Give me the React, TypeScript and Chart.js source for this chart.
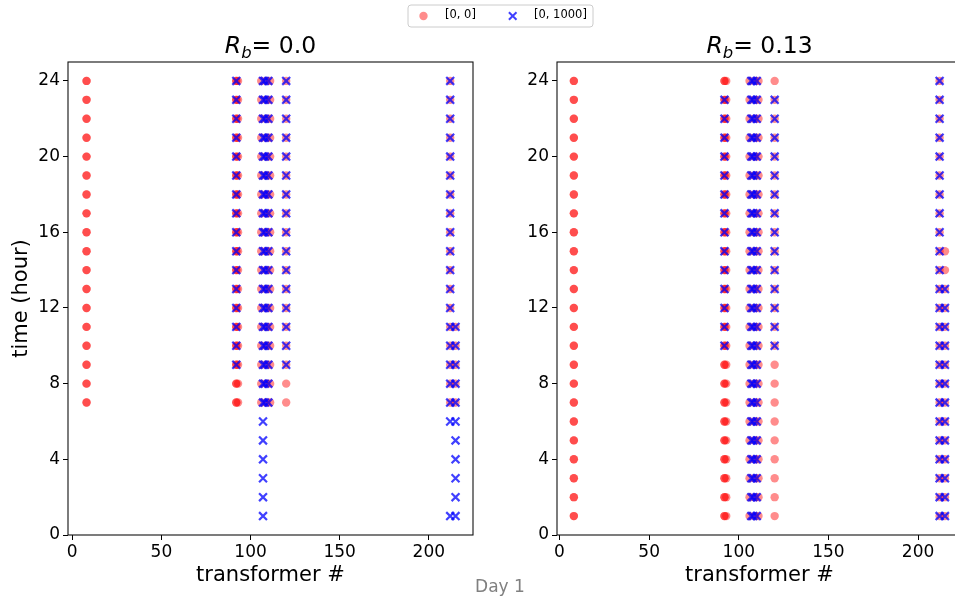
import React, { useEffect, useRef } from "react";
import { Chart, registerables } from "chart.js";

Chart.register(...registerables);

// ---------------- data ----------------
// hour lists (hours at which a transformer appears)
const H_ALL = [1, 2, 3, 4, 5, 6, 7, 8, 9, 10, 11, 12, 13, 14, 15, 16, 17, 18, 19, 20, 21, 22, 23, 24];
const H_7_24 = [7, 8, 9, 10, 11, 12, 13, 14, 15, 16, 17, 18, 19, 20, 21, 22, 23, 24];
const H_9_24 = [9, 10, 11, 12, 13, 14, 15, 16, 17, 18, 19, 20, 21, 22, 23, 24];
const H_10_23 = [10, 11, 12, 13, 14, 15, 16, 17, 18, 19, 20, 21, 22, 23];
const H_7_11 = [7, 8, 9, 10, 11];
const H_1_11 = [1, 2, 3, 4, 5, 6, 7, 8, 9, 10, 11];
const H_1_13 = [1, 2, 3, 4, 5, 6, 7, 8, 9, 10, 11, 12, 13];
const H_1_15 = [1, 2, 3, 4, 5, 6, 7, 8, 9, 10, 11, 12, 13, 14, 15];
const H_1_6_24 = [1, 6, 7, 8, 9, 10, 11, 12, 13, 14, 15, 16, 17, 18, 19, 20, 21, 22, 23, 24];

// [transformer #, hours]  (columns 8 and 92 hold overlapping records)
const LEFT_RED: [number, number[]][] = [
  [8, H_7_24], [8, H_7_24], [92, H_7_24], [92, H_7_24], [93, H_7_24], [106, H_7_24],
  [109, H_7_24], [111, H_7_24], [120, H_7_24], [212, H_7_24], [215, H_7_11],
];
const LEFT_BLUE: [number, number[]][] = [
  [92, H_9_24], [107, H_ALL], [108, H_7_24], [110, H_7_24], [120, H_9_24],
  [212, H_1_6_24], [215, H_1_11],
];
const RIGHT_RED: [number, number[]][] = [
  [8, H_ALL], [8, H_ALL], [92, H_ALL], [92, H_ALL], [93, H_ALL], [106, H_ALL],
  [109, H_ALL], [111, H_ALL], [120, H_ALL], [212, H_ALL], [215, H_1_15],
];
const RIGHT_BLUE: [number, number[]][] = [
  [92, H_10_23], [107, H_ALL], [108, H_ALL], [110, H_ALL], [120, H_10_23],
  [212, H_ALL], [215, H_1_13],
];

const X_TICKS = [0, 50, 100, 150, 200];
const Y_TICKS = [0, 4, 8, 12, 16, 20, 24];
const LEFT_X_RANGE = [-2.4, 224.8];
const RIGHT_X_RANGE = [-1.4, 224.5];
const Y_RANGE = [0, 25];
const RB_VALUES = ["0.0", "0.13"];
const SERIES_LABELS = ["[0, 0]", "[0, 1000]"];
const X_TITLE = "transformer #";
const Y_TITLE = "time (hour)";
const FIG_LABEL = "Day 1";

// ---------------- styles ----------------
const FONT = '"DejaVu Sans", sans-serif';
const RED = "rgba(255,0,0,0.45)";
const BLUE = "rgba(0,0,255,0.75)";
const W = 1000;
const H = 601;
const TOP = 62;
const BOTTOM = 535;

function toPoints(groups: [number, number[]][]) {
  return groups.flatMap(([t, hours]) => hours.map((h) => ({ x: t, y: h })));
}

const framePlugin = {
  id: "frame",
  afterDraw(chart: any) {
    const { ctx, chartArea: a } = chart;
    ctx.save();
    ctx.strokeStyle = "#111";
    ctx.lineWidth = 1.1;
    ctx.strokeRect(a.left, a.top, a.right - a.left, a.bottom - a.top);
    ctx.restore();
  },
};

function titlePlugin(value: string) {
  return {
    id: "rbTitle",
    afterDraw(chart: any) {
      const { ctx, chartArea: a } = chart;
      const size = 23.5;
      const cx = (a.left + a.right) / 2;
      const base = 53;
      ctx.save();
      ctx.fillStyle = "#000";
      ctx.textBaseline = "alphabetic";
      ctx.textAlign = "left";
      const fR = `italic ${size}px ${FONT}`;
      const fB = `italic ${size * 0.7}px ${FONT}`;
      const fN = `${size}px ${FONT}`;
      const rest = "= " + value;
      ctx.font = fR;
      const wR = ctx.measureText("R").width;
      ctx.font = fB;
      const wB = ctx.measureText("b").width;
      ctx.font = fN;
      const wN = ctx.measureText(rest).width;
      let x = cx - (wR + wB + wN) / 2;
      ctx.font = fR;
      ctx.fillText("R", x, base);
      x += wR;
      ctx.font = fB;
      ctx.fillText("b", x, base + size * 0.2);
      x += wB;
      ctx.font = fN;
      ctx.fillText(rest, x, base);
      ctx.restore();
    },
  };
}

const overlayPlugin = {
  id: "overlay",
  afterDraw(chart: any) {
    const { ctx } = chart;
    ctx.save();
    // legend box
    const bx = 408, by = 5, bw = 185, bh = 22, r = 3;
    ctx.beginPath();
    ctx.moveTo(bx + r, by);
    ctx.lineTo(bx + bw - r, by);
    ctx.quadraticCurveTo(bx + bw, by, bx + bw, by + r);
    ctx.lineTo(bx + bw, by + bh - r);
    ctx.quadraticCurveTo(bx + bw, by + bh, bx + bw - r, by + bh);
    ctx.lineTo(bx + r, by + bh);
    ctx.quadraticCurveTo(bx, by + bh, bx, by + bh - r);
    ctx.lineTo(bx, by + r);
    ctx.quadraticCurveTo(bx, by, bx + r, by);
    ctx.closePath();
    ctx.fillStyle = "rgba(255,255,255,0.8)";
    ctx.fill();
    ctx.strokeStyle = "#cccccc";
    ctx.lineWidth = 1;
    ctx.stroke();
    // red marker
    ctx.fillStyle = RED;
    ctx.beginPath();
    ctx.arc(423.5, 16, 4.2, 0, Math.PI * 2);
    ctx.fill();
    // blue x marker
    ctx.strokeStyle = BLUE;
    ctx.lineWidth = 2;
    ctx.beginPath();
    const mx = 512.7, my = 16, d = 3.8;
    ctx.moveTo(mx - d, my - d);
    ctx.lineTo(mx + d, my + d);
    ctx.moveTo(mx + d, my - d);
    ctx.lineTo(mx - d, my + d);
    ctx.stroke();
    // legend texts
    ctx.fillStyle = "#000";
    ctx.font = `11.5px ${FONT}`;
    ctx.textBaseline = "middle";
    ctx.textAlign = "left";
    ctx.fillText(SERIES_LABELS[0], 445, 15.5);
    ctx.fillText(SERIES_LABELS[1], 534, 15.5);
    // figure label
    ctx.fillStyle = "#808080";
    ctx.font = `17px ${FONT}`;
    ctx.textAlign = "center";
    ctx.fillText(FIG_LABEL, 500, 588);
    ctx.restore();
  },
};

function makeConfig(p: {
  red: [number, number[]][];
  blue: [number, number[]][];
  xRange: number[];
  padding: { left: number; right: number; top: number; bottom: number };
  yWidth: number;
  yTitle: boolean;
  rb: string;
  extra: any[];
}) {
  const tickFont = { family: FONT, size: 17 };
  const titleFont = { family: FONT, size: 21 };
  return {
    type: "scatter" as const,
    data: {
      datasets: [
        {
          label: SERIES_LABELS[0],
          data: toPoints(p.red),
          pointStyle: "circle",
          pointRadius: 4.2,
          backgroundColor: RED,
          borderColor: RED,
          pointBorderWidth: 0,
          borderWidth: 0,
          order: 1,
        },
        {
          label: SERIES_LABELS[1],
          data: toPoints(p.blue),
          pointStyle: "crossRot",
          pointRadius: 5.6,
          backgroundColor: BLUE,
          borderColor: BLUE,
          pointBorderWidth: 2.2,
          borderWidth: 2.2,
          order: 0,
        },
      ],
    },
    options: {
      responsive: false,
      animation: false as const,
      events: [],
      layout: { padding: p.padding },
      plugins: {
        legend: { display: false },
        tooltip: { enabled: false },
        title: { display: false },
      },
      scales: {
        x: {
          type: "linear" as const,
          min: p.xRange[0],
          max: p.xRange[1],
          afterBuildTicks: (s: any) => {
            s.ticks = X_TICKS.map((v) => ({ value: v }));
          },
          afterFit: (s: any) => {
            s.height = H - BOTTOM;
          },
          ticks: { font: tickFont, color: "#000", padding: 2, maxRotation: 0, autoSkip: false },
          grid: { display: true, drawOnChartArea: false, drawTicks: true, tickLength: 5, tickColor: "#000", tickWidth: 1 },
          border: { display: false },
          title: { display: true, text: X_TITLE, font: titleFont, color: "#000", padding: { top: 0, bottom: 13 } },
        },
        y: {
          type: "linear" as const,
          min: Y_RANGE[0],
          max: Y_RANGE[1],
          afterBuildTicks: (s: any) => {
            s.ticks = Y_TICKS.map((v) => ({ value: v }));
          },
          afterFit: (s: any) => {
            s.width = p.yWidth;
          },
          ticks: { font: tickFont, color: "#000", padding: 3, autoSkip: false },
          grid: { display: true, drawOnChartArea: false, drawTicks: true, tickLength: 5, tickColor: "#000", tickWidth: 1 },
          border: { display: false },
          title: { display: p.yTitle, text: Y_TITLE, font: titleFont, color: "#000", padding: { top: 9, bottom: 0 } },
        },
      },
    },
    plugins: [framePlugin, titlePlugin(p.rb), ...p.extra],
  };
}

function ScatterPanel(props: { config: any; z: number }) {
  const ref = useRef<HTMLCanvasElement | null>(null);
  useEffect(() => {
    if (!ref.current) return;
    const chart = new Chart(ref.current, props.config);
    return () => chart.destroy();
  }, []);
  return (
    <canvas
      ref={ref}
      width={W}
      height={H}
      style={{ position: "absolute", left: 0, top: 0, width: W, height: H, zIndex: props.z }}
    />
  );
}

export default function App() {
  const leftCfg = makeConfig({
    red: LEFT_RED,
    blue: LEFT_BLUE,
    xRange: LEFT_X_RANGE,
    padding: { left: 0, right: W - 473, top: TOP, bottom: 0 },
    yWidth: 68,
    yTitle: true,
    rb: RB_VALUES[0],
    extra: [],
  });
  const rightCfg = makeConfig({
    red: RIGHT_RED,
    blue: RIGHT_BLUE,
    xRange: RIGHT_X_RANGE,
    padding: { left: 557 - 50, right: W - 962, top: TOP, bottom: 0 },
    yWidth: 50,
    yTitle: false,
    rb: RB_VALUES[1],
    extra: [overlayPlugin],
  });
  return (
    <div
      style={{
        position: "absolute",
        left: 0,
        top: 0,
        width: 955,
        height: 601,
        overflow: "hidden",
        background: "#fff",
      }}
    >
      <ScatterPanel config={leftCfg} z={1} />
      <ScatterPanel config={rightCfg} z={2} />
    </div>
  );
}
